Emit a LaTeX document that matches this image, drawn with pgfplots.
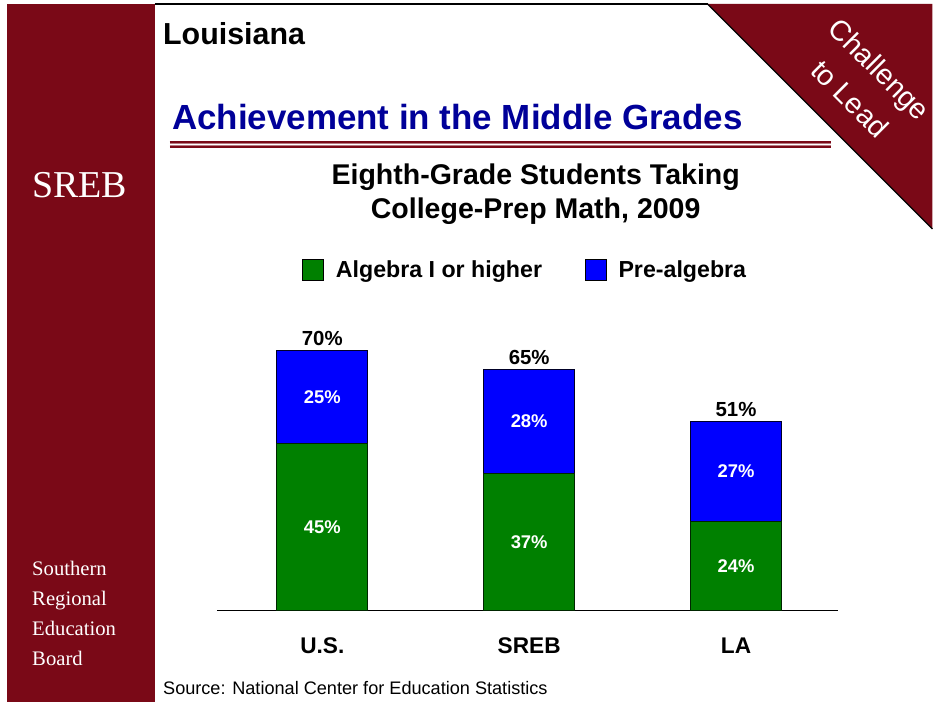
\documentclass[border=0pt]{standalone}
\usepackage{pgfplots}
\pgfplotsset{compat=1.18}
\usepackage{fontspec}
\setmainfont{Liberation Sans}
\newfontfamily\seriffont{Liberation Serif}
\definecolor{sredred}{RGB}{122,9,23}
\definecolor{titleblue}{RGB}{0,0,153}
\definecolor{bargreen}{RGB}{0,128,0}
\definecolor{barblue}{RGB}{0,0,255}
\newcommand{\fs}[1]{\fontsize{#1}{1.2\dimexpr#1\relax}\selectfont}
\pgfplotsset{
  common/.style={
    at={(O)}, anchor=south west, scale only axis,
    width=466.5pt, height=195pt,
    xmin=-0.5097, xmax=2.4952, ymin=0, ymax=70,
    clip=false,
  }
}
\begin{document}
\begin{tikzpicture}
\begin{scope}[x=0.75pt,y=-0.75pt]
  % canvas
  \fill[white] (0,0) rectangle (933,702);
  % left panel
  \fill[sredred] (7,4) rectangle (155,702);
  % top line
  \draw[black,line width=1pt] (155,4) -- (708,4);
  % corner triangle
  \fill[sredred] (708,4) -- (933,4) -- (933,229) -- cycle;
  \draw[black,line width=0.9pt] (708,4) -- (933,229);
  \coordinate (CL) at (865.5,84);
  % titles
  \node[anchor=base west,inner sep=0pt,font=\bfseries\fs{22.8pt}] at (163,45) {Louisiana};
  \node[anchor=base west,inner sep=0pt,font=\bfseries\fs{26.2pt},text=titleblue] at (172,130) {Achievement in the Middle Grades};
  % double rule
  \draw[sredred!55,line width=2.2pt] (170,142.3) -- (832,142.3);
  \draw[sredred!55,line width=2.2pt] (170,146.7) -- (832,146.7);
  \draw[sredred,line width=1.4pt] (170,142.3) -- (832,142.3);
  \draw[sredred,line width=1.4pt] (170,146.7) -- (832,146.7);
  % chart title
  \node[anchor=base,inner sep=0pt,font=\bfseries\fs{21.4pt}] at (536,185) {Eighth-Grade Students Taking};
  \node[anchor=base,inner sep=0pt,font=\bfseries\fs{21.4pt}] at (536,219) {College-Prep Math, 2009};
  % panel text
  \node[anchor=base west,inner sep=0pt,text=white,font=\seriffont\fs{28.5pt}] at (32,198) {SREB};
  \node[anchor=base west,inner sep=0pt,text=white,align=left,font=\seriffont\fontsize{15.5pt}{22.5pt}\selectfont] at (32,666) {Southern\\Regional\\Education\\Board};
  % source
  \node[anchor=base west,inner sep=0pt,font=\fs{13.6pt}] at (163,695) {Source: National Center for Education Statistics};
  \coordinate (O) at (217,611);
\end{scope}
\node[white,rotate=-45,align=center,font=\fontsize{21.5pt}{31.5pt}\selectfont,inner sep=0pt]
    at (CL) {Challenge\\to Lead};

\begin{axis}[common,
  ybar stacked, bar width=68.25pt,
  axis x line=bottom, axis y line=none,
  x axis line style={-,line width=1.1pt},
  xtick={0,1,2}, xticklabels={U.S.,SREB,LA},
  major tick length=0pt,
  xticklabel style={font=\bfseries\fs{17pt},anchor=north,inner sep=0pt,yshift=-20pt},
  legend columns=2,
  legend style={at={(0.13666,1.31154)},anchor=west,draw=none,fill=none,inner sep=0pt,
    font=\bfseries\fs{17.4pt},
    nodes={inner sep=0pt},
    /tikz/every odd column/.append style={column sep=9pt},
    /tikz/every even column/.append style={column sep=32pt}},
  legend cell align=left,
  legend image code/.code={\draw[#1,draw=black,line width=0.4pt] (0pt,-8pt) rectangle (16pt,8pt);},
]
\addplot[fill=bargreen,draw=black!85!green,line width=0.5pt] coordinates {(0,45) (1,37) (2,24)};
\addplot[fill=barblue,draw=black!85!blue,line width=0.5pt] coordinates {(0,25) (1,28) (2,27)};
\legend{Algebra I or higher,Pre-algebra}
\end{axis}

\begin{axis}[common, hide axis]
\addplot[only marks, mark=text, text mark={},
  point meta=explicit symbolic,
  nodes near coords={\pgfplotspointmeta\%},
  every node near coord/.style={anchor=center,text=white,font=\bfseries\fs{13.8pt},inner sep=0pt}]
  coordinates {(0,22.5) [45] (1,18.5) [37] (2,12) [24]
               (0,57.5) [25] (1,51) [28] (2,37.5) [27]};
\addplot[only marks, mark=text, text mark={},
  point meta=explicit symbolic,
  nodes near coords={\pgfplotspointmeta\%},
  every node near coord/.style={anchor=south,text=black,font=\bfseries\fs{15.3pt},inner sep=0pt,yshift=3.5pt}]
  coordinates {(0,70) [70] (1,65) [65] (2,51) [51]};
\end{axis}
\end{tikzpicture}
\end{document}
